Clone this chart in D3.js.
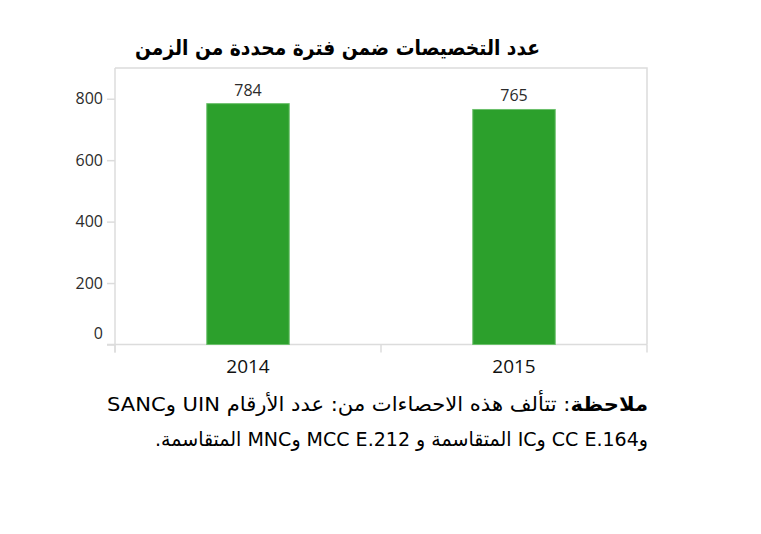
<!DOCTYPE html>
<html><head><meta charset="utf-8">
<script src="https://cdn.jsdelivr.net/npm/d3@7"></script>
<style>body{margin:0;background:#fff}svg{display:block}</style>
</head><body>
<svg id="c" width="761" height="534"></svg>
<script>
const categories = ["2014", "2015"];
const values = [784, 765];
const yTicks = [0, 200, 400, 600, 800];
const title = "عدد التخصيصات ضمن فترة محددة من الزمن";
const noteBold = "ملاحظة";
const noteLine1 = ": تتألف هذه الاحصاءات من: عدد الأرقام UIN وSANC";
const noteLine2 = "وCC E.164 وIC المتقاسمة و MCC E.212 وMNC المتقاسمة.";

const svg = d3.select("#c");
const L = 115, R = 647, T = 68, B = 344.5;
const x = d3.scaleBand().domain(categories).range([L, R]).paddingInner(0.69).paddingOuter(0.345);
const y = d3.scaleLinear().domain([0, 900]).range([B, T]);
const grid = "#dcdcdc";
const numFont = "'Open Sans', 'Noto Sans', sans-serif";

// frame
svg.append("path").attr("d", `M${L},${T}H${R}V${B}`).attr("fill","none").attr("stroke",grid).attr("stroke-width",1.5);

// y axis
const ya = svg.append("g").attr("transform",`translate(${L},0)`)
  .call(d3.axisLeft(y).tickValues(yTicks).tickSize(8).tickPadding(4));
ya.select(".domain").attr("stroke",grid).attr("stroke-width",1.5).attr("d",`M0,${T}V${B+8}`);
ya.selectAll(".tick line").attr("stroke",grid).attr("stroke-width",1.5);
ya.selectAll(".tick text").attr("fill","#2b2b2b").attr("font-family",numFont).attr("font-size",16)
  .attr("dy", d => d === 0 ? "-0.4em" : "0.32em");

// x axis
const xa = svg.append("g").attr("transform",`translate(0,${B})`)
  .call(d3.axisBottom(x).tickSize(0).tickPadding(15));
xa.select(".domain").remove();
xa.selectAll(".tick text").attr("fill","#111").attr("font-family",numFont).attr("font-size",19);
// category separator ticks
const seps = [L, (L+R)/2, R];
svg.append("g").selectAll("line").data(seps).join("line")
  .attr("x1",d=>d).attr("x2",d=>d).attr("y1",B).attr("y2",B+8)
  .attr("stroke",grid).attr("stroke-width",1.5);
svg.append("line").attr("x1",L-8).attr("x2",R).attr("y1",B).attr("y2",B).attr("stroke",grid).attr("stroke-width",1.5);

// bars
svg.append("g").selectAll("rect").data(values).join("rect")
  .attr("x",(d,i)=>x(categories[i])).attr("width",x.bandwidth())
  .attr("y",d=>y(d)).attr("height",d=>B-y(d))
  .attr("fill","#2ca02c").attr("stroke","#6cc06c").attr("stroke-width",1);

svg.append("g").selectAll("text").data(values).join("text")
  .attr("x",(d,i)=>x(categories[i])+x.bandwidth()/2).attr("y",d=>y(d)-8)
  .attr("text-anchor","middle").attr("fill","#2b2b2b")
  .attr("font-family",numFont).attr("font-size",16)
  .text(d=>d);

// title
svg.append("text").attr("x",540).attr("y",55).attr("text-anchor","start")
  .attr("font-family","'DejaVu Sans', sans-serif").attr("font-weight","bold").attr("font-size",21)
  .attr("textLength",405).attr("lengthAdjust","spacingAndGlyphs")
  .attr("direction","rtl").attr("fill","#000").text(title);

// note
const n1 = svg.append("text").attr("x",648).attr("y",411).attr("direction","rtl").attr("text-anchor","start")
  .attr("font-family","'DejaVu Sans', sans-serif").attr("font-size",20).attr("fill","#000")
  .attr("textLength",541).attr("lengthAdjust","spacingAndGlyphs");
n1.append("tspan").attr("font-weight","bold").text(noteBold);
n1.append("tspan").text(noteLine1);
svg.append("text").attr("x",648).attr("y",446).attr("direction","rtl").attr("text-anchor","start")
  .attr("font-family","'DejaVu Sans', sans-serif").attr("font-size",20).attr("fill","#000")
  .attr("textLength",493).attr("lengthAdjust","spacingAndGlyphs").text(noteLine2);
</script>
</body></html>
